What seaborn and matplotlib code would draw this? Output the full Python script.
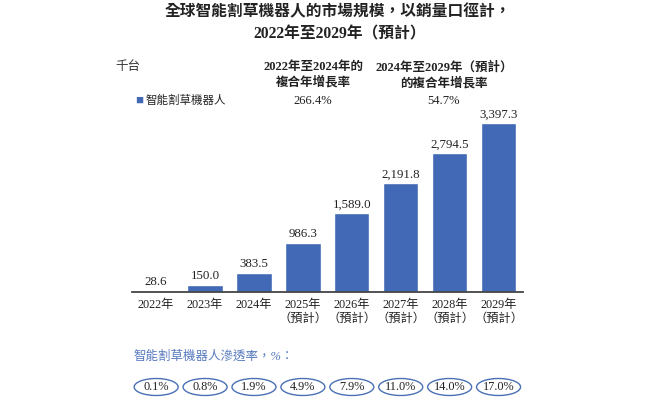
import matplotlib
matplotlib.use("Agg")
import matplotlib.pyplot as plt
import seaborn as sns
import pandas as pd
from matplotlib.patches import Ellipse

# data
years = ["2022年", "2023年", "2024年", "2025年\n（預計）", "2026年\n（預計）",
         "2027年\n（預計）", "2028年\n（預計）", "2029年\n（預計）"]
sales = [28.6, 150.0, 383.5, 986.3, 1589.0, 2191.8, 2794.5, 3397.3]
penetration = ["0.1%", "0.8%", "1.9%", "4.9%", "7.9%", "11.0%", "14.0%", "17.0%"]
cagr_labels = ["2022年至2024年的\n複合年增長率", "2024年至2029年（預計）\n的複合年增長率"]
cagr_values = ["266.4%", "54.7%"]
series_name = "智能割草機器人"

BAR = "#4169b5"
FONT = ["Liberation Serif", "Noto Sans CJK TC", "DejaVu Sans"]

sns.set_theme(style="white")
plt.rcParams['font.family'] = FONT

W, H = 660, 404
fig = plt.figure(figsize=(W / 100, H / 100), dpi=100)


def fx(x):
    return x / W


def fy(y):
    return 1 - y / H


df = pd.DataFrame({'year': years, 'sales': sales})

ax = fig.add_axes([fx(131.7), fy(292.3), fx(523 - 131.7), (292.3 - 110) / H])
sns.barplot(data=df, x='year', y='sales', color=BAR, width=0.72, saturation=1, ax=ax)
ax.set_xlim(-0.5, 7.5)
ax.set_ylim(0, 3397.3 * (292.3 - 110) / 169)
ax.bar_label(ax.containers[0], fmt="{:,.1f}", padding=2, fontsize=9.3, color="#222222")
ax.set_xlabel("")
ax.set_ylabel("")
ax.set_yticks([])
ax.tick_params(axis='x', length=0, pad=5, labelsize=8.8, labelcolor="#222222")
for s in ['top', 'left', 'right']:
    ax.spines[s].set_visible(False)
ax.spines['bottom'].set_color("#444444")
ax.spines['bottom'].set_linewidth(1.3)

# titles
fig.text(fx(338), fy(12), "全球智能割草機器人的市場規模，以銷量口徑計，", ha='center', va='center',
         fontsize=11.3, fontweight='bold', color="#222222")
fig.text(fx(340), fy(34), "2022年至2029年（預計）", ha='center', va='center',
         fontsize=11.3, fontweight='bold', color="#222222")

fig.text(fx(115), fy(67), "千台", ha='left', va='center', fontsize=9, style='italic', color="#333333")

for cx, lab, val in zip([313, 444], cagr_labels, cagr_values):
    fig.text(fx(cx), fy(75), lab, ha='center', va='center', fontsize=9,
             fontweight='bold', color="#222222", linespacing=1.3)
    fig.text(fx(cx), fy(101.5), val, ha='center', va='center', fontsize=9, color="#222222")

# legend
fig.text(fx(135.5), fy(101), "■", ha='left', va='center', fontsize=9.5, color=BAR)
fig.text(fx(146), fy(101), series_name, ha='left', va='center', fontsize=8.3, color="#222222")

# penetration rate row
fig.text(fx(133), fy(357), "智能割草機器人滲透率，%：", ha='left', va='center',
         fontsize=9, style='italic', color="#5578bd")

ax2 = fig.add_axes([fx(131.7), fy(397), fx(523 - 131.7), 20 / H])
ax2.set_xlim(-0.5, 7.5)
ax2.set_ylim(0, 1)
ax2.axis('off')
for i, p in enumerate(penetration):
    ax2.add_patch(Ellipse((i, 0.5), 0.9, 0.85, facecolor='white', edgecolor="#4a70b5", lw=1.0))
    ax2.text(i, 0.5, p, ha='center', va='center', fontsize=8.8, color="#222222")

fig.savefig("out.png", dpi=100)
